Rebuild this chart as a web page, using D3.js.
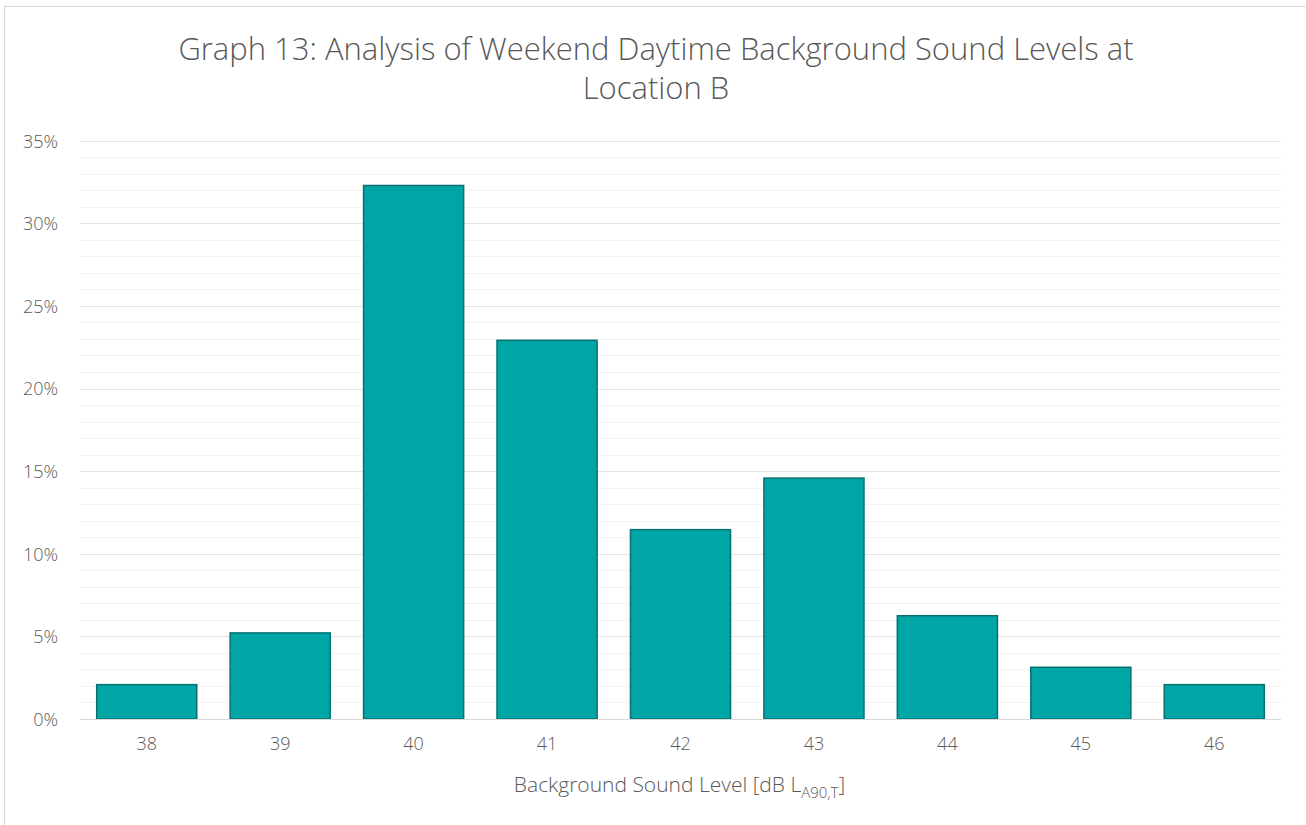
<!DOCTYPE html>
<html>
<head>
<meta charset="utf-8">
<script src="https://cdn.jsdelivr.net/npm/d3@7"></script>
<style>
  html, body { margin: 0; padding: 0; background: #fff; }
  svg text { font-family: "Open Sans", "Noto Sans", sans-serif; }
</style>
</head>
<body>
<svg id="chart" width="1306" height="825"></svg>
<script>
// Background sound level bins (dB LA90,T) and share of measurement periods
const levels = ["38", "39", "40", "41", "42", "43", "44", "45", "46"];
const shares = [2.08, 5.21, 32.29, 22.92, 11.46, 14.58, 6.25, 3.13, 2.08];
const yTicks = [0, 5, 10, 15, 20, 25, 30, 35];
const yMinor = d3.range(0, 36, 1);
const titleLines = ["Graph 13: Analysis of Weekend Daytime Background Sound Levels at", "Location B"];

const svg = d3.select("#chart");
const margin = { left: 80, right: 25, top: 140.7, bottom: 106 };
const W = 1306, H = 825;

// chart frame
svg.append("rect")
  .attr("x", 4.5).attr("y", 6.5)
  .attr("width", 1320).attr("height", 830)
  .attr("fill", "#fff").attr("stroke", "#d9d9d9").attr("stroke-width", 1);

const x = d3.scaleBand().domain(levels)
  .range([margin.left, W - margin.right])
  .paddingInner(0.25).paddingOuter(0.125);
const y = d3.scaleLinear().domain([0, 35]).range([719, margin.top]);

// minor gridlines
svg.append("g").selectAll("line").data(yMinor.filter(v => v % 5 !== 0)).join("line")
  .attr("x1", margin.left).attr("x2", W - margin.right)
  .attr("y1", d => Math.round(y(d)) + 0.5).attr("y2", d => Math.round(y(d)) + 0.5)
  .attr("stroke", "#f2f2f2").attr("stroke-width", 1);

// major gridlines
svg.append("g").selectAll("line").data(yTicks.filter(v => v > 0)).join("line")
  .attr("x1", margin.left).attr("x2", W - margin.right)
  .attr("y1", d => Math.round(y(d)) + 0.5).attr("y2", d => Math.round(y(d)) + 0.5)
  .attr("stroke", "#e3e3e3").attr("stroke-width", 1);

// bars
svg.append("g").selectAll("rect").data(levels).join("rect")
  .attr("x", d => x(d))
  .attr("y", (d, i) => y(shares[i]))
  .attr("width", x.bandwidth())
  .attr("height", (d, i) => y(0) - y(shares[i]))
  .attr("fill", "#00a6a6")
  .attr("stroke", "#08706f")
  .attr("stroke-width", 1.5);

// baseline
svg.append("line")
  .attr("x1", margin.left).attr("x2", W - margin.right)
  .attr("y1", Math.round(y(0)) + 0.5).attr("y2", Math.round(y(0)) + 0.5)
  .attr("stroke", "#d9d9d9").attr("stroke-width", 1);

// y axis labels
const yAxis = d3.axisLeft(y).tickValues(yTicks).tickFormat(d => d + "%").tickSize(0).tickPadding(0);
const gy = svg.append("g").attr("transform", `translate(58,0)`).call(yAxis);
gy.select(".domain").remove();
gy.selectAll("text").attr("fill", "#595959").style("font-size", "18px").style("font-weight", 300)
  .attr("dy", "0.35em");

// x axis labels
const xAxis = d3.axisBottom(x).tickSize(0).tickPadding(0);
const gx = svg.append("g").attr("transform", `translate(0,737)`).call(xAxis);
gx.select(".domain").remove();
gx.selectAll("text").attr("fill", "#595959").style("font-size", "18px").style("font-weight", 300)
  .attr("dy", "0.71em");

// x axis title with subscript
const xt = svg.append("text")
  .attr("x", (margin.left + W - margin.right) / 2 - 1).attr("y", 792)
  .attr("text-anchor", "middle").attr("fill", "#595959")
  .style("font-size", "21px").style("font-weight", 300);
xt.append("tspan").text("Background Sound Level [dB L");
xt.append("tspan").attr("dy", 6).style("font-size", "15px").text("A90,T");
xt.append("tspan").attr("dy", -6).text("]");

// chart title
svg.append("g").selectAll("text").data(titleLines).join("text")
  .attr("x", 656).attr("y", (d, i) => 60 + i * 39)
  .attr("text-anchor", "middle").attr("fill", "#595959")
  .style("font-size", "31px").style("font-weight", 300)
  .text(d => d);
</script>
</body>
</html>
